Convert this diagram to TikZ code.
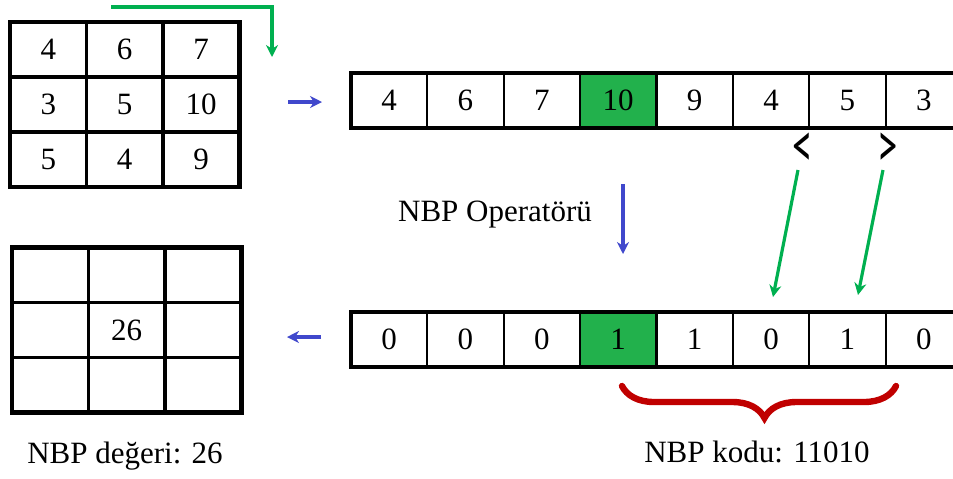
\documentclass[tikz,border=0pt]{standalone}
\usepackage{fontspec}
\setmainfont{Liberation Serif}
\newfontfamily\chevronfont{Carlito}
\usetikzlibrary{arrows.meta,positioning,decorations.pathreplacing}

\definecolor{cellgreen}{RGB}{34,177,76}
\definecolor{arrowgreen}{RGB}{0,176,80}
\definecolor{arrowblue}{RGB}{64,72,204}
\definecolor{bracered}{RGB}{192,0,0}

\tikzset{
  cell/.style={draw, line width=1.1pt, outer sep=0pt, inner sep=0pt,
    minimum width=38.2pt, minimum height=27.5pt, font=\fontsize{15.5}{18}\selectfont},
  gcell/.style={cell, line width=1.9pt},
  hot/.style={cell, fill=cellgreen},
  frame/.style={draw, line width=2.2pt},
  lbl/.style={font=\fontsize{15.5}{19}\selectfont, inner sep=0pt},
  chev/.style={inner sep=0pt, font=\chevronfont\fontsize{30}{30}\selectfont},
  garrow/.style={draw=arrowgreen, line width=1.6pt, -{Stealth[length=6pt, width=6pt]}},
  barrow/.style={draw=arrowblue, line width=1.6pt, -{Stealth[length=6pt, width=6pt]}}
}

\begin{document}
\begin{tikzpicture}[x=0.5pt, y=-0.5pt, node distance=0pt]
    \useasboundingbox (0,0) rectangle (953,478);

    % input neighbourhood
    \node[gcell] (g11) at (48.3,49.3) {4};
    \node[gcell] (g12) [right=of g11] {6};
    \node[gcell] (g13) [right=of g12] {7};
    \node[gcell] (g21) [below=of g11] {3};
    \node[gcell] (g22) [right=of g21] {5};
    \node[gcell] (g23) [right=of g22] {10};
    \node[gcell] (g31) [below=of g21] {5};
    \node[gcell] (g32) [right=of g31] {4};
    \node[gcell] (g33) [right=of g32] {9};
    \draw[frame] (g11.north west) rectangle (g33.south east);

    % unrolled values
    \node[cell] (r1) at (389,100.5) {4};
    \node[cell] (r2) [right=of r1] {6};
    \node[cell] (r3) [right=of r2] {7};
    \node[hot]  (r4) [right=of r3] {10};
    \node[cell] (r5) [right=of r4] {9};
    \node[cell] (r6) [right=of r5] {4};
    \node[cell] (r7) [right=of r6] {5};
    \node[cell] (r8) [right=of r7] {3};
    \draw[frame] (r1.north west) rectangle (r8.south east);

    \node[chev] (lt) at (803,150) {\scalebox{0.68}[1.1]{<}};
    \node[chev] (gt) at (888,150) {\scalebox{0.68}[1.1]{>}};

    % binary code
    \node[cell] (b1) at (389,339.5) {0};
    \node[cell] (b2) [right=of b1] {0};
    \node[cell] (b3) [right=of b2] {0};
    \node[hot]  (b4) [right=of b3] {1};
    \node[cell] (b5) [right=of b4] {1};
    \node[cell] (b6) [right=of b5] {0};
    \node[cell] (b7) [right=of b6] {1};
    \node[cell] (b8) [right=of b7] {0};
    \draw[frame] (b1.north west) rectangle (b8.south east);

    % output neighbourhood
    \node[gcell] (o11) at (50.3,275) {};
    \node[gcell] (o12) [right=of o11] {};
    \node[gcell] (o13) [right=of o12] {};
    \node[gcell] (o21) [below=of o11] {};
    \node[gcell] (o22) [right=of o21] {26};
    \node[gcell] (o23) [right=of o22] {};
    \node[gcell] (o31) [below=of o21] {};
    \node[gcell] (o32) [right=of o31] {};
    \node[gcell] (o33) [right=of o32] {};
    \draw[frame] (o11.north west) rectangle (o33.south east);

    % labels
    \node[lbl] (lblop)   at (495,215) {NBP Operatörü};
    \node[lbl] (lblval)  at (125,456) {NBP değeri: 26};
    \node[lbl] (lblcode) at (757,452) {NBP kodu: 11010};

    % arrows
    \coordinate (gs) at (111,7);
    \coordinate (ge) at (272,57);
    \draw[garrow] (gs) -| (ge);
    \coordinate (ins) at (288,102);
    \coordinate (ine) at (322,102);
    \draw[barrow] (ins) -- (ine);
    \coordinate (ops) at (623,184);
    \coordinate (ope) at (623,254);
    \draw[barrow] (ops) -- (ope);
    \coordinate (outs) at (321,337);
    \coordinate (oute) at (287,337);
    \draw[barrow] (outs) -- (oute);
    \coordinate (l1) at (798,170);
    \coordinate (l2) at (773,297);
    \draw[garrow] (l1) -- (l2);
    \coordinate (m1) at (883,170);
    \coordinate (m2) at (858,295);
    \draw[garrow] (m1) -- (m2);

    % brace under the code
    \coordinate (bl) at (622,386);
    \coordinate (br) at (896,386);
    \draw[bracered, line width=3.2pt, line cap=round, decorate,
          decoration={brace, mirror, amplitude=16pt, aspect=0.52}] (bl) -- (br);
\end{tikzpicture}
\end{document}
